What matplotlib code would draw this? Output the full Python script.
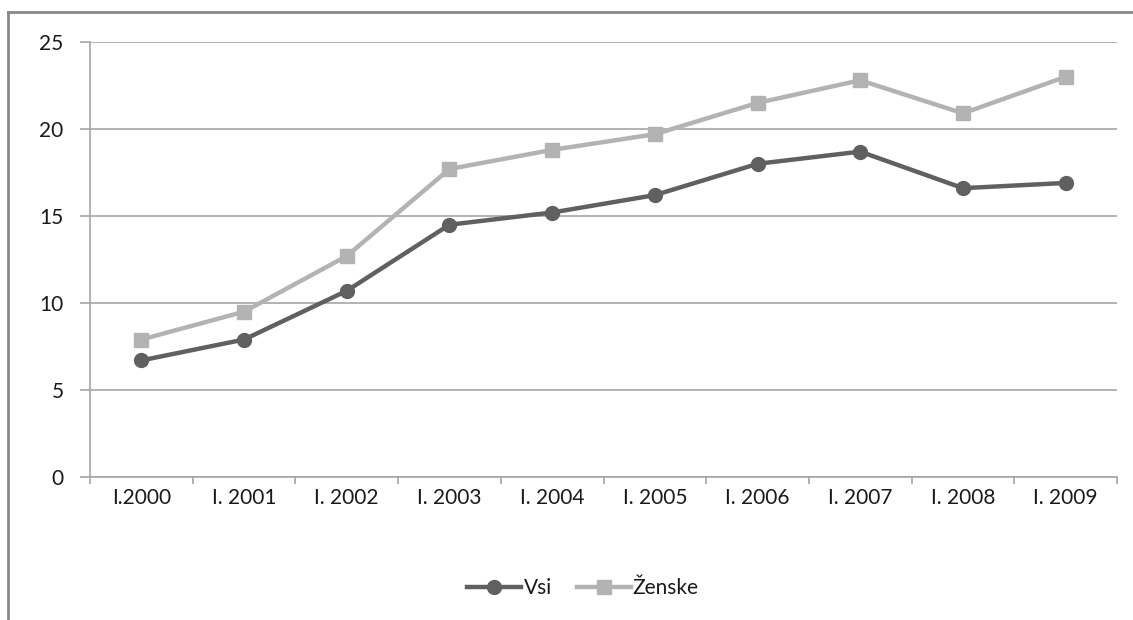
import matplotlib
matplotlib.use("Agg")
import matplotlib.pyplot as plt
from matplotlib.lines import Line2D
import numpy as np

categories = ["I.2000", "I. 2001", "I. 2002", "I. 2003", "I. 2004",
              "I. 2005", "I. 2006", "I. 2007", "I. 2008", "I. 2009"]
vsi = [6.7, 7.9, 10.7, 14.5, 15.2, 16.2, 18.0, 18.7, 16.6, 16.9]
zenske = [7.9, 9.5, 12.7, 17.7, 18.8, 19.7, 21.5, 22.8, 20.9, 23.0]
yticks = [0, 5, 10, 15, 20, 25]

plt.rcParams['font.family'] = ['Lato', 'DejaVu Sans']

W, H = 1133, 620
fig = plt.figure(figsize=(W / 100, H / 100), dpi=100)
ax = fig.add_axes([90 / W, 1 - 477 / H, (1117 - 90) / W, (477 - 42) / H])

x = np.arange(len(categories))
ax.plot(x, zenske, color="#b3b3b3", lw=3.2, marker="s", markersize=10,
        label="Ženske", zorder=3)
ax.plot(x, vsi, color="#606060", lw=3.2, marker="o", markersize=10,
        label="Vsi", zorder=4)

ax.set_xlim(-0.5, len(categories) - 0.5)
ax.set_ylim(0, 25)
ax.set_yticks(yticks)
ax.set_yticklabels([str(v) for v in yticks], fontsize=15, color="#1a1a1a")
ax.set_xticks(x)
ax.set_xticklabels(categories, fontsize=15, color="#1a1a1a")
ax.tick_params(axis="x", length=0, pad=8)
ax.tick_params(axis="y", length=7, color="#a6a6a6", width=1.2, pad=12)
# category boundary ticks
ax.set_xticks(np.arange(-0.5, len(categories)), minor=True)
ax.tick_params(axis="x", which="minor", length=5, color="#a6a6a6", width=1.2, direction="out")

ax.grid(axis="y", color="#a6a6a6", lw=1.2)
ax.set_axisbelow(True)
for s in ["top", "right"]:
    ax.spines[s].set_visible(False)
ax.spines["left"].set_color("#a6a6a6")
ax.spines["bottom"].set_color("#a6a6a6")
ax.spines["left"].set_linewidth(1.2)
ax.spines["bottom"].set_linewidth(1.2)

handles, labels = ax.get_legend_handles_labels()
leg = fig.legend(handles[::-1], labels[::-1], loc="center",
                 bbox_to_anchor=(583 / W, 1 - 588 / H), ncol=2, frameon=False,
                 fontsize=15, handlelength=2.6, handletextpad=0.1, columnspacing=1.2)
for t in leg.get_texts():
    t.set_color("#1a1a1a")

# outer chart border (left and top visible)
fig.add_artist(Line2D([8 / W, 8 / W], [0, 1 - 12 / H], transform=fig.transFigure,
                      color="#888888", lw=2))
fig.add_artist(Line2D([8 / W, 1], [1 - 12 / H, 1 - 12 / H], transform=fig.transFigure,
                      color="#888888", lw=2))

fig.savefig("out.png", dpi=100)
